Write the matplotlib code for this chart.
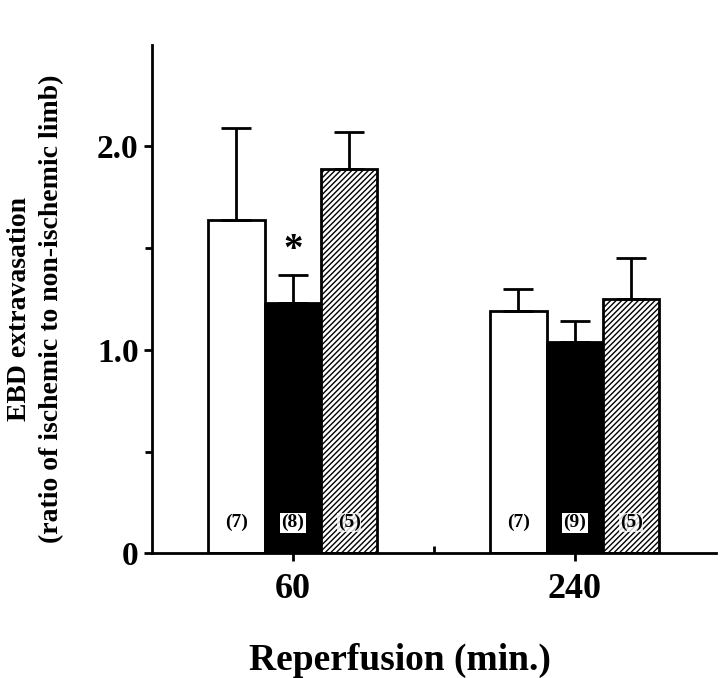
import matplotlib.pyplot as plt
import numpy as np

plt.rcParams['font.family'] = ['Liberation Serif', 'DejaVu Serif']
plt.rcParams['font.weight'] = 'bold'
plt.rcParams['hatch.linewidth'] = 1.0

groups = ['60', '240']
means_white = [1.64, 1.19]
err_white = [0.45, 0.11]
means_black = [1.23, 1.04]
err_black = [0.14, 0.10]
means_hatch = [1.89, 1.25]
err_hatch = [0.18, 0.20]
n_white = ['(7)', '(7)']
n_black = ['(8)', '(9)']
n_hatch = ['(5)', '(5)']

x = np.arange(len(groups))
w = 0.2

fig = plt.figure(figsize=(7.2, 6.78), dpi=100)
ax = fig.add_axes([0.211, 0.184, 0.783, 0.75])

ekw = dict(lw=2, capthick=2, ecolor='black')
cs = 10.5
ax.bar(x - w, means_white, w, color='white', edgecolor='black', linewidth=2,
       yerr=[[0, 0], err_white], capsize=cs, error_kw=ekw)
ax.bar(x, means_black, w, color='black', edgecolor='black', linewidth=2,
       yerr=[[0, 0], err_black], capsize=cs, error_kw=ekw)
ax.bar(x + w, means_hatch, w, color='white', edgecolor='black', linewidth=2,
       hatch='//////', yerr=[[0, 0], err_hatch], capsize=cs, error_kw=ekw)

for i in range(len(groups)):
    ax.text(x[i] - w, 0.15, n_white[i], ha='center', va='center', fontsize=14)
    ax.text(x[i], 0.15, n_black[i], ha='center', va='center', fontsize=14,
            bbox=dict(facecolor='white', edgecolor='none', pad=1))
    ax.text(x[i] + w, 0.15, n_hatch[i], ha='center', va='center', fontsize=14,
            bbox=dict(facecolor='white', edgecolor='none', pad=0.5, alpha=0.8))

# significance mark
ax.text(x[0], means_black[0] + err_black[0] + 0.12, '*', ha='center', va='center', fontsize=28)

ax.set_xlim(-0.5, 1.5)
ax.set_ylim(0, 2.5)
ax.set_yticks([0, 1, 2])
ax.set_yticklabels(['0', '1.0', '2.0'], fontsize=24)
ax.set_yticks([0.5, 1.5], minor=True)
ax.set_xticks(x)
ax.set_xticklabels(groups, fontsize=26)
ax.set_xticks([0.5], minor=True)
ax.tick_params(axis='both', which='major', length=6, width=2, direction='out')
ax.tick_params(axis='both', which='minor', length=5, width=2, direction='out')
ax.tick_params(axis='x', which='minor', direction='in')
ax.tick_params(axis='x', which='major', pad=8)

for s in ['top', 'right']:
    ax.spines[s].set_visible(False)
ax.spines['left'].set_linewidth(2)
ax.spines['bottom'].set_linewidth(2)

ax.set_ylabel('EBD extravasation\n(ratio of ischemic to non-ischemic limb)',
              fontsize=20, fontweight='bold', linespacing=1.35)
ax.yaxis.set_label_coords(-0.206, 0.48)
ax.yaxis.label.set_va('center')
ax.set_xlabel('Reperfusion (min.)', fontsize=27, fontweight='bold')
ax.xaxis.set_label_coords(0.44, -0.21)
ax.xaxis.label.set_va('center')

fig.savefig('out.png', dpi=100)
